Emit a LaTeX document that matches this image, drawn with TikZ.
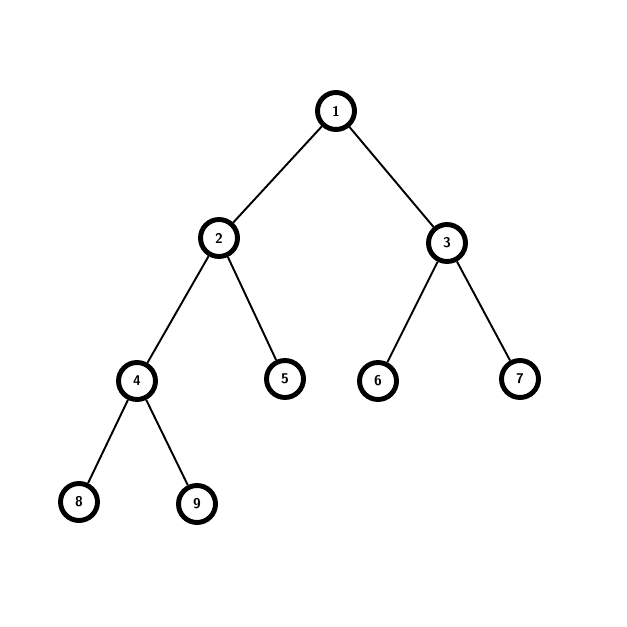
\documentclass[tikz,border=0pt]{standalone}
\usetikzlibrary{arrows}

\tikzset{
  treenode/.style={circle,draw,line width=2.8pt,minimum size=0.74cm,inner sep=0pt,font=\sffamily\bfseries\footnotesize},
  branch/.style={line width=1.1pt}
}

\begin{document}
\begin{tikzpicture}

\useasboundingbox (0,0) rectangle (12.54,-12.54);

\node [treenode] (n1) at (6.72,-2.22) {1};
\node [treenode] (n2) at (4.38,-4.76) {2};
\node [treenode] (n3) at (8.94,-4.86) {3};
\node [treenode] (n4) at (2.74,-7.62) {4};
\node [treenode] (n5) at (5.70,-7.58) {5};
\node [treenode] (n6) at (7.56,-7.62) {6};
\node [treenode] (n7) at (10.40,-7.58) {7};
\node [treenode] (n8) at (1.58,-10.04) {8};
\node [treenode] (n9) at (3.94,-10.08) {9};

\draw [branch](n1) -- (n2);
\draw [branch](n1) -- (n3);
\draw [branch](n2) -- (n4);
\draw [branch](n2) -- (n5);
\draw [branch](n3) -- (n6);
\draw [branch](n3) -- (n7);
\draw [branch](n4) -- (n8);
\draw [branch](n4) -- (n9);
\end{tikzpicture}
\end{document}
